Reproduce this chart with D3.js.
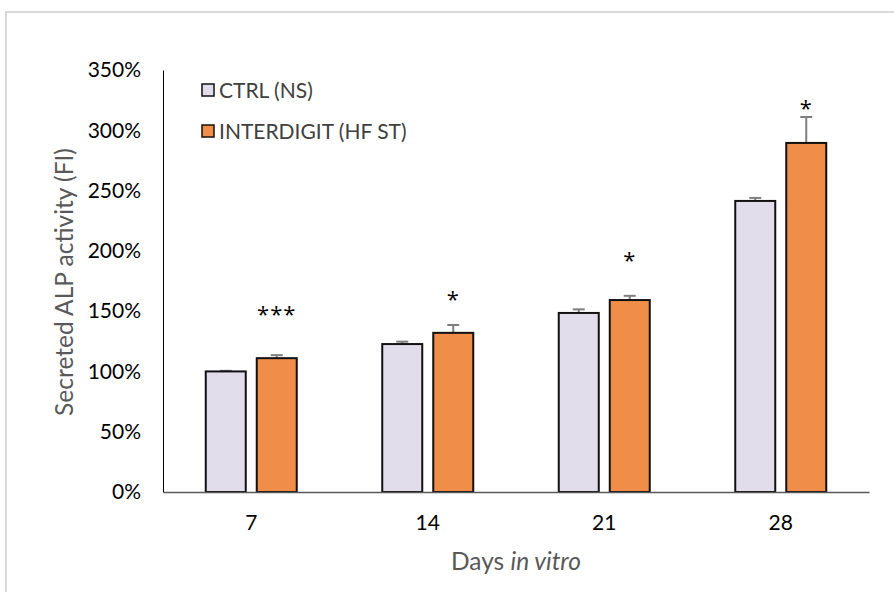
<!DOCTYPE html>
<html><head><meta charset="utf-8">
<script src="https://cdn.jsdelivr.net/npm/d3@7"></script>
<style>body{margin:0;background:#fff;} text{font-family:Lato, "Open Sans", sans-serif;}</style>
</head><body>
<svg id="c" width="894" height="592"></svg>
<script>
const days = ["7", "14", "21", "28"];
const seriesNames = ["CTRL (NS)", "INTERDIGIT (HF ST)"];
const ctrlValues = [100, 122.7, 148.5, 241.4];
const ctrlErrors = [0.5, 2, 3, 2.5];
const hfValues = [111, 132, 159.2, 289.5];
const hfErrors = [2.5, 6.5, 3.5, 21.5];
const stars = ["***", "*", "*", "*"];
const starLevels = [149.3, 161.7, 194, 320.1];
const yTicks = [0, 50, 100, 150, 200, 250, 300, 350];
const colors = ["#E2DDEA", "#F08D49"];

const svg = d3.select("#c");
svg.append("rect").attr("x", 6).attr("y", 12).attr("width", 900).attr("height", 600)
  .attr("fill", "none").attr("stroke", "#d9d9d9").attr("stroke-width", 2);

const x0 = d3.scaleBand().domain(days).range([163, 869]);
const y = d3.scaleLinear().domain([0, 350]).range([492, 70]);
const barW = 40, gap = 11;

// y axis
const ya = svg.append("g").attr("transform", "translate(163,0)")
  .call(d3.axisLeft(y).tickValues(yTicks).tickFormat(d => d + "%").tickSize(0).tickPadding(22));
ya.select(".domain").attr("stroke", "#000").attr("stroke-width", 1);
ya.selectAll("text").attr("font-size", 21).attr("fill", "#000");

const data = days.map((d, i) => ({day: d, vals: [
  {s: 0, v: ctrlValues[i], e: ctrlErrors[i]},
  {s: 1, v: hfValues[i], e: hfErrors[i]}]}));

const g = svg.append("g");
data.forEach((d, i) => {
  const c = x0(d.day) + x0.bandwidth() / 2;
  d.vals.forEach(b => {
    const bx = b.s === 0 ? c - gap / 2 - barW : c + gap / 2;
    const cx = bx + barW / 2;
    g.append("line").attr("x1", cx).attr("x2", cx).attr("y1", y(b.v)).attr("y2", y(b.v + b.e))
      .attr("stroke", "#7f7f7f").attr("stroke-width", 2);
    g.append("line").attr("x1", cx - 6).attr("x2", cx + 6).attr("y1", y(b.v + b.e)).attr("y2", y(b.v + b.e))
      .attr("stroke", "#7f7f7f").attr("stroke-width", 2);
    g.append("rect").attr("x", bx).attr("y", y(b.v)).attr("width", barW).attr("height", y(0) - y(b.v))
      .attr("fill", colors[b.s]).attr("stroke", "#111").attr("stroke-width", 2);
  });
  g.append("text").attr("x", c + gap / 2 + barW / 2).attr("y", y(starLevels[i]))
    .attr("text-anchor", "middle").attr("dy", "0.45em").attr("font-size", 22)
    .style("font-family", "'Open Sans', sans-serif").attr("letter-spacing", 1).attr("fill", "#000").text(stars[i]);
});

// x axis
const xa = svg.append("g").attr("transform", "translate(0,492)")
  .call(d3.axisBottom(x0).tickSize(0).tickPadding(23));
xa.select(".domain").attr("stroke", "#595959").attr("stroke-width", 1.5);
xa.selectAll("text").attr("font-size", 21).attr("fill", "#000");

// axis titles
svg.append("text").attr("transform", "translate(73,282) rotate(-90)").attr("text-anchor", "middle")
  .attr("font-size", 24.5).attr("fill", "#595959").text("Secreted ALP activity (FI)");
const xt = svg.append("text").attr("x", 516).attr("y", 570).attr("text-anchor", "middle")
  .attr("font-size", 24.5).attr("fill", "#595959");
xt.append("tspan").text("Days ");
xt.append("tspan").attr("font-style", "italic").text("in vitro");

// legend
seriesNames.forEach((n, i) => {
  const ly = 84 + i * 41;
  svg.append("rect").attr("x", 202).attr("y", ly).attr("width", 12).attr("height", 12)
    .attr("fill", colors[i]).attr("stroke", "#111").attr("stroke-width", 1.5);
  svg.append("text").attr("x", 219).attr("y", ly + 14).attr("font-size", 21).attr("fill", "#404040").text(n);
});
</script>
</body></html>
